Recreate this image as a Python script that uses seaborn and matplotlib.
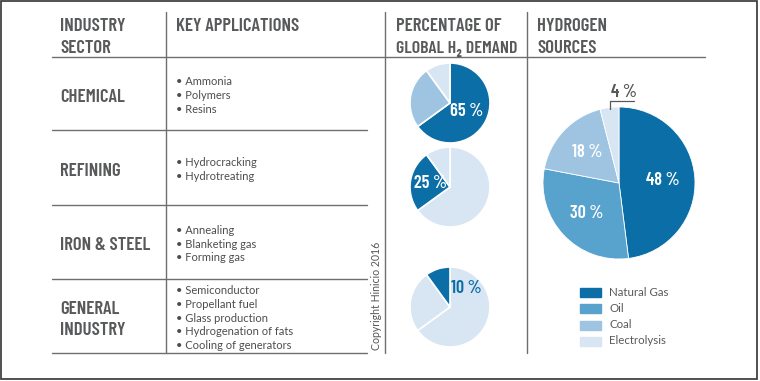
import numpy as np
import matplotlib.pyplot as plt
import seaborn as sns
from matplotlib.patches import Rectangle

sns.set_theme(style="white")
plt.rcParams['font.family'] = ['Lato', 'DejaVu Sans']

W, H = 760, 381

# table content
sectors = ["CHEMICAL", "REFINING", "IRON & STEEL", "GENERAL\nINDUSTRY"]
applications = [
    ["Ammonia", "Polymers", "Resins"],
    ["Hydrocracking", "Hydrotreating"],
    ["Annealing", "Blanketing gas", "Forming gas"],
    ["Semiconductor", "Propellant fuel", "Glass production",
     "Hydrogenation of fats", "Cooling of generators"],
]

# share of global H2 demand (chemical, refining, general industry)
demand_sectors = ["CHEMICAL", "REFINING", "GENERAL\nINDUSTRY"]
demand_share = [65, 25, 10]

# hydrogen sources
source_names = ["Natural Gas", "Oil", "Coal", "Electrolysis"]
source_share = [48, 30, 18, 4]

blues = ["#0b6ea6", "#58a3cd", "#9ec4e1", "#d8e6f3"]
grey = "#58595b"
line_c = "#6d6e70"
narrow = ['Barlow Condensed', 'Roboto Condensed', 'DejaVu Sans']

fig = plt.figure(figsize=(W / 100, H / 100), dpi=100)
ax = fig.add_axes([0, 0, 1, 1])
ax.set_xlim(0, W)
ax.set_ylim(H, 0)
ax.axis('off')

# outer frame
ax.add_patch(Rectangle((1, 1), W - 4, H - 3, fill=False, edgecolor="#333333", lw=1.2))

# grid lines
for x in [166, 385, 527]:
    ax.plot([x, x], [12, 353], color=line_c, lw=1)
ax.plot([52, 705], [57, 57], color=line_c, lw=1)
rows = [57, 130, 205, 279, 353]
for y in rows[1:]:
    ax.plot([52, 367], [y, y], color=line_c, lw=1)

# headers
hdr = dict(family=narrow, fontweight='semibold', fontsize=13.5, color=grey, va='baseline')
ax.text(60, 31, "INDUSTRY", **hdr)
ax.text(60, 53, "SECTOR", **hdr)
ax.text(176, 31, "KEY APPLICATIONS", **hdr)
ax.text(396, 31, "PERCENTAGE OF", **hdr)
ax.text(396, 53, "GLOBAL H\u2082 DEMAND", **{**hdr, 'fontsize': 12.9})
ax.text(537, 31, "HYDROGEN", **hdr)
ax.text(537, 53, "SOURCES", **hdr)

# sector rows
pitch = 13.6
for i, (name, apps) in enumerate(zip(sectors, applications)):
    mid = (rows[i] + rows[i + 1]) / 2 + 2
    lines = name.split("\n")
    for j, ln in enumerate(lines):
        base = mid + 6.5 + (j - (len(lines) - 1) / 2) * 21
        ax.text(60, base, ln, **hdr)
    for j, app in enumerate(apps):
        base = mid + 3.5 + (j - (len(apps) - 1) / 2) * pitch
        ax.text(176, base, "\u2022 " + app, fontsize=8, color="#4d4d4f", va='baseline')

ax.text(376, 296, "Copyright Hinicio 2016", rotation=90, fontsize=7.6,
        color="#555555", ha='center', va='center')


def pie_axes(cx, cy, r):
    a = fig.add_axes([(cx - r) / W, 1 - (cy + r) / H, 2 * r / W, 2 * r / H])
    return a


# small demand pies
pie_cols = [
    [blues[0], blues[2], blues[3]],
    [blues[3], blues[0], blues[3]],
    [blues[3], blues[3], blues[0]],
]
pie_y = [103, 187, 307]
label_dist = [0.48, 0.5, None]
for k in range(len(demand_sectors)):
    a = pie_axes(450, pie_y[k], 40)
    wedges, _ = a.pie(demand_share, colors=pie_cols[k], startangle=90,
                      counterclock=False, radius=1,
                      wedgeprops=dict(edgecolor='white', linewidth=1.2))
    a.set_xlim(-1, 1)
    a.set_ylim(-1, 1)
    w = wedges[k]
    txt = f"{demand_share[k]} %"
    if label_dist[k] is not None:
        ang = np.deg2rad((w.theta1 + w.theta2) / 2)
        a.text(label_dist[k] * np.cos(ang), label_dist[k] * np.sin(ang), txt,
               family=narrow, fontweight='semibold', fontsize=13, color='white',
               ha='center', va='center')
    else:
        a.text(0.42, 0.47, txt, family=narrow, fontweight='semibold', fontsize=13,
               color=blues[0], ha='center', va='center')

# big sources pie
cx, cy, R = 619, 183, 76
b = pie_axes(cx, cy, R)
wedges, _ = b.pie(source_share, colors=blues, startangle=90, counterclock=False,
                  radius=1, wedgeprops=dict(edgecolor='white', linewidth=0.6))
b.set_xlim(-1, 1)
b.set_ylim(-1, 1)
for w, v in zip(wedges[:3], source_share[:3]):
    ang = np.deg2rad((w.theta1 + w.theta2) / 2)
    b.text(0.58 * np.cos(ang), 0.58 * np.sin(ang), f"{v} %", family=narrow,
           fontweight='semibold', fontsize=13, color='white', ha='center', va='center')
w = wedges[3]
ang = np.deg2rad((w.theta1 + w.theta2) / 2)
x0, y0 = np.cos(ang) * 0.98, np.sin(ang) * 0.98
b.plot([x0, x0, 0.2], [y0, 1.08, 1.08], color=grey, lw=0.9, clip_on=False)
b.text(0.06, 1.19, f"{source_share[3]} %", family=narrow, fontweight='semibold',
       fontsize=13, color=grey, ha='center', va='center')

# legend
leg_y = [292, 308, 325, 341]
for name, col, y in zip(source_names, blues, leg_y):
    ax.add_patch(Rectangle((580, y - 4.5), 21, 9, color=col))
    ax.text(609, y, name, fontsize=8.3, color=grey, va='center')

fig.savefig("out.png", dpi=100)
